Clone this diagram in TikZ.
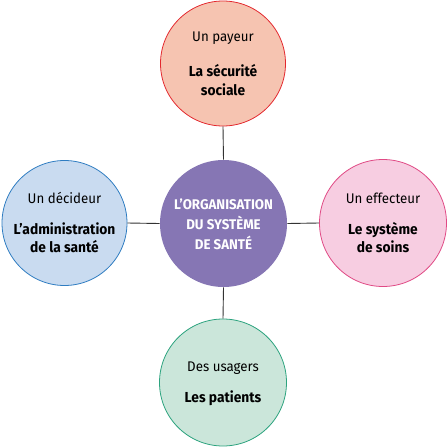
\documentclass[tikz,border=0pt]{standalone}
\usepackage{fontspec}
\setmainfont[FakeStretch=0.95]{Fira Sans}
\definecolor{topfill}{HTML}{F6C4B1}
\definecolor{topline}{HTML}{E3282E}
\definecolor{midfill}{HTML}{8676B4}
\definecolor{leftfill}{HTML}{C9DBF0}
\definecolor{leftline}{HTML}{2E7CC1}
\definecolor{rightfill}{HTML}{F7CDE1}
\definecolor{rightline}{HTML}{E04A85}
\definecolor{botfill}{HTML}{CBE6DA}
\definecolor{botline}{HTML}{2CA37E}
\tikzset{
  bubble/.style={circle, minimum size=125pt, inner sep=0pt, line width=0.8pt},
  lbl/.style={font=\fontsize{14}{16}\selectfont, text=black, inner sep=0pt, align=center},
  blbl/.style={font=\fontsize{14.5}{18.5}\selectfont\bfseries, text=black, inner sep=0pt, align=center},
  mlbl/.style={font=\fontsize{14}{20}\selectfont\bfseries, text=white, inner sep=0pt, align=center},
  link/.style={draw=black!80, line width=0.9pt}
}
\begin{document}
\begin{tikzpicture}[x=1pt,y=-1pt]
\useasboundingbox (0,0) rectangle (447,447);
\node[bubble, fill=midfill, minimum size=127pt] (mid) at (223.5,223.5) {};
\node[bubble, fill=topfill, draw=topline] (top) at (223,63.5) {};
\node[bubble, fill=leftfill, draw=leftline] (left) at (64.5,223) {};
\node[bubble, fill=rightfill, draw=rightline, minimum size=127pt] (right) at (383,223) {};
\node[bubble, fill=botfill, draw=botline, minimum size=127pt] (bot) at (223,382.5) {};
\draw[link] (top.south) -- (mid.north);
\draw[link] (bot.north) -- (mid.south);
\draw[link] (left.east) -- (mid.west);
\draw[link] (right.west) -- (mid.east);
\node[mlbl] (midtxt) at (223.5,224) {L’ORGANISATION\\DU SYSTÈME\\DE SANTÉ};
\node[lbl] (toph) at (223,38) {Un payeur};
\node[blbl] (topb) at (223,80) {La sécurité\\sociale};
\node[lbl] (lefth) at (64.5,198) {Un décideur};
\node[blbl] (leftb) at (64.5,237.5) {L’administration\\de la santé};
\node[lbl] (righth) at (383,198) {Un effecteur};
\node[blbl] (rightb) at (383,237.5) {Le système\\de soins};
\node[lbl] (both) at (223,368) {Des usagers};
\node[blbl] (botb) at (223,398) {Les patients};
\end{tikzpicture}
\end{document}
